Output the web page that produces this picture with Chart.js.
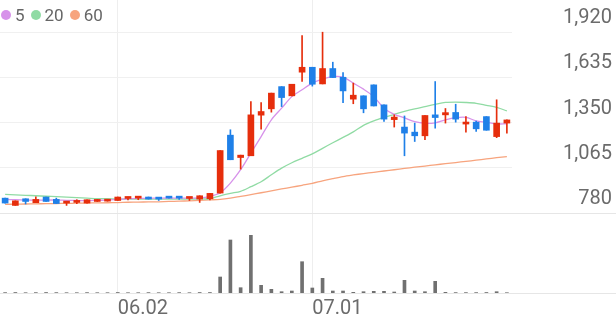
<!DOCTYPE html>
<html>
<head>
<meta charset="utf-8">
<script src="https://cdn.jsdelivr.net/npm/chart.js@4.4.1/dist/chart.umd.min.js"></script>
<style>
  html, body { margin: 0; padding: 0; background: #fff; }
  #wrap { position: relative; width: 616px; height: 321px; }
  #legend { position: absolute; left: 1px; top: 5px; font: 17px Roboto, sans-serif; color: #666; display: flex; align-items: center; line-height: 20px; }
  #legend .item { display: inline-flex; align-items: center; margin-right: 6px; }
  #legend i { display: inline-block; width: 10px; height: 10px; border-radius: 50%; margin-right: 4px; }
</style>
</head>
<body>
<div id="wrap">
  <canvas id="chart" width="616" height="321"></canvas>
  <div id="legend"></div>
</div>
<script>
(function (window, undefined) {

  var dates = [
    '05.16', '05.19', '05.20', '05.21', '05.22', '05.23', '05.26', '05.27', '05.28', '05.29', '05.30',
    '06.02', '06.04', '06.05', '06.09', '06.10', '06.11', '06.12', '06.13', '06.16', '06.17', '06.18',
    '06.19', '06.20', '06.23', '06.24', '06.25', '06.26', '06.27', '06.30',
    '07.01', '07.02', '07.03', '07.04', '07.07', '07.08', '07.09', '07.10', '07.11', '07.14', '07.15',
    '07.16', '07.17', '07.18', '07.21', '07.22', '07.23', '07.24', '07.25', '07.28'
  ];
  var tickLabels = ['06.02', '07.01'];
  var priceTicks = [780, 1065, 1350, 1635, 1920];

  var opens  = [874, 828, 870, 845, 881, 866, 843, 847, 843, 853, 855, 859, 872, 874, 881, 874, 883, 885, 872, 868,
                870, 906, 1271, 1130, 1141, 1397, 1437, 1577, 1519, 1668, 1699, 1594, 1691, 1636, 1498, 1519, 1588, 1462, 1369, 1322,
                1290, 1267, 1399, 1399, 1414, 1341, 1353, 1388, 1262, 1347];
  var highs  = [874, 857, 870, 883, 881, 874, 849, 864, 864, 866, 866, 881, 881, 881, 881, 874, 883, 885, 878, 889,
                904, 1174, 1305, 1145, 1483, 1477, 1536, 1577, 1592, 1898, 1699, 1920, 1731, 1666, 1599, 1519, 1588, 1462, 1399, 1392,
                1347, 1395, 1609, 1439, 1466, 1388, 1360, 1388, 1494, 1367];
  var lows   = [843, 828, 837, 845, 853, 840, 828, 839, 843, 853, 855, 859, 862, 864, 868, 859, 874, 866, 859, 847,
                862, 906, 1116, 1057, 1141, 1309, 1416, 1451, 1519, 1609, 1580, 1594, 1634, 1476, 1469, 1412, 1455, 1357, 1322, 1141,
                1231, 1242, 1315, 1347, 1353, 1290, 1294, 1302, 1255, 1284];
  var closes = [843, 857, 853, 866, 853, 840, 849, 853, 864, 866, 866, 881, 881, 881, 868, 868, 874, 874, 878, 889,
                904, 1174, 1116, 1145, 1399, 1420, 1536, 1508, 1592, 1699, 1592, 1691, 1634, 1550, 1523, 1437, 1455, 1372, 1385, 1284,
                1267, 1395, 1382, 1413, 1372, 1353, 1311, 1302, 1347, 1367];
  var volumes = [40000, 50000, 30000, 40000, 50000, 40000, 30000, 30000, 40000, 30000, 30000, 50000, 30000, 30000, 40000, 30000, 30000, 40000, 30000, 50000,
                 50000, 1600000, 5300000, 530000, 5770000, 770000, 370000, 130000, 200000, 3130000, 500000, 1470000, 200000, 200000, 70000, 130000, 170000, 170000, 100000, 1270000,
                 200000, 130000, 1170000, 70000, 40000, 40000, 40000, 50000, 130000, 30000];

  var ma5  = [866, 864, 862, 861, 862, 862, 860, 859, 858, 860, 862, 866, 870, 872, 873, 874, 875, 874, 874, 875,
              885, 908, 969, 1053, 1158, 1262, 1368, 1441, 1514, 1557, 1599, 1624, 1640, 1637, 1599, 1561, 1514, 1441, 1402, 1380,
              1356, 1346, 1349, 1368, 1381, 1383, 1361, 1352, 1342, 1342];
  var ma20 = [898, 895, 892, 889, 886, 883, 880, 877, 874, 871, 870, 868, 868, 868, 868, 868, 868, 868, 868, 869,
              870, 889, 904, 917, 946, 977, 1021, 1063, 1097, 1125, 1153, 1188, 1223, 1257, 1292, 1333, 1361, 1383, 1402, 1421,
              1437, 1451, 1465, 1477, 1479, 1477, 1472, 1459, 1446, 1424];
  var ma60 = [835, 836, 837, 838, 839, 840, 841, 842, 843, 844, 845, 846, 848, 849, 850, 851, 853, 855, 857, 860,
              863, 866, 874, 885, 896, 908, 920, 932, 943, 955, 967, 983, 997, 1010, 1020, 1029, 1037, 1045, 1053, 1061,
              1069, 1076, 1084, 1091, 1098, 1106, 1113, 1121, 1129, 1136];

  var UP = '#e62e0c';
  var DOWN = '#1f80e8';
  var maColors = ['#d792ea', '#90dba4', '#f7a47e'];
  var textColor = '#6b6b6b';

  var candleColors = opens.map(function (o, i) { return closes[i] >= o ? UP : DOWN; });
  var bodies = opens.map(function (o, i) { return [o, closes[i]]; });
  var wicks = lows.map(function (l, i) { return [l, highs[i]]; });

  // full-width lines under the price panel and under the volume bars
  var separators = {
    id: 'separators',
    beforeDatasetsDraw: function (chart) {
      var ctx = chart.ctx;
      var rows = [Math.round(chart.scales.y.getPixelForValue(priceTicks[0])) + 0.5,
                  Math.round(chart.chartArea.bottom) + 0.5];
      ctx.save();
      ctx.strokeStyle = '#e6e6e6';
      ctx.lineWidth = 1;
      rows.forEach(function (py) {
        ctx.beginPath();
        ctx.moveTo(0, py);
        ctx.lineTo(chart.width, py);
        ctx.stroke();
      });
      ctx.restore();
    }
  };

  function noPadding (scale) {
    scale.paddingTop = 0;
    scale.paddingBottom = 0;
    scale.paddingLeft = 0;
    scale.paddingRight = 0;
  }

  function maLine (label, data, color, order) {
    return {
      type: 'line', label: label, data: data, yAxisID: 'y', order: order,
      borderColor: color, borderWidth: 1.3, pointRadius: 0, tension: 0.3
    };
  }

  function buildLegend () {
    var box = document.getElementById('legend');
    ['5', '20', '60'].forEach(function (name, i) {
      var item = document.createElement('span');
      item.className = 'item';
      item.innerHTML = '<i style="background:' + maColors[i] + '"></i>' + name;
      box.appendChild(item);
    });
  }

  function createChart () {
    new Chart(document.getElementById('chart'), {
      type: 'bar',
      data: {
        labels: dates,
        datasets: [
          { type: 'bar', label: 'body', data: bodies, yAxisID: 'y', order: 0, grouped: false,
            backgroundColor: candleColors, barThickness: 6, minBarLength: 2 },
          { type: 'bar', label: 'wick', data: wicks, yAxisID: 'y', order: 1, grouped: false,
            backgroundColor: candleColors, barThickness: 1 },
          maLine('5', ma5, maColors[0], 2),
          maLine('20', ma20, maColors[1], 3),
          maLine('60', ma60, maColors[2], 4),
          { type: 'bar', label: 'volume', data: volumes, yAxisID: 'volume', order: 5, grouped: false,
            backgroundColor: '#707070', barThickness: 3 }
        ]
      },
      options: {
        responsive: false,
        animation: false,
        devicePixelRatio: 1,
        layout: { autoPadding: false, padding: { left: 0, right: 4, top: 0, bottom: 0 } },
        plugins: { legend: { display: false }, tooltip: { enabled: false } },
        scales: {
          x: {
            offset: true,
            grid: { offset: false, color: '#eeeeee', drawTicks: false },
            border: { display: false },
            ticks: { autoSkip: false, maxRotation: 0, align: 'start', padding: 4, color: textColor,
                     font: { family: 'Roboto', size: 20 } },
            afterBuildTicks: function (scale) {
              scale.ticks = scale.ticks.filter(function (t) {
                return tickLabels.indexOf(dates[t.value]) !== -1;
              });
            },
            afterFit: function (scale) { scale.height = 28; noPadding(scale); }
          },
          y: {
            position: 'right',
            min: 276,
            max: 2123,
            grid: { color: '#f0f0f0', drawTicks: false },
            border: { display: false },
            ticks: { crossAlign: 'far', labelOffset: -14, padding: 0, color: textColor,
                     font: { family: 'Roboto', size: 20 },
                     callback: function (v) { return v.toLocaleString('en-US'); } },
            afterBuildTicks: function (scale) {
              scale.ticks = priceTicks.map(function (v) { return { value: v }; });
            },
            afterFit: function (scale) { scale.width = 100; noPadding(scale); }
          },
          volume: { type: 'linear', axis: 'y', position: 'right', display: false, min: 0, max: 29300000 }
        }
      },
      plugins: [separators]
    });
  }

  buildLegend();
  createChart();

})(window);
</script>
</body>
</html>
